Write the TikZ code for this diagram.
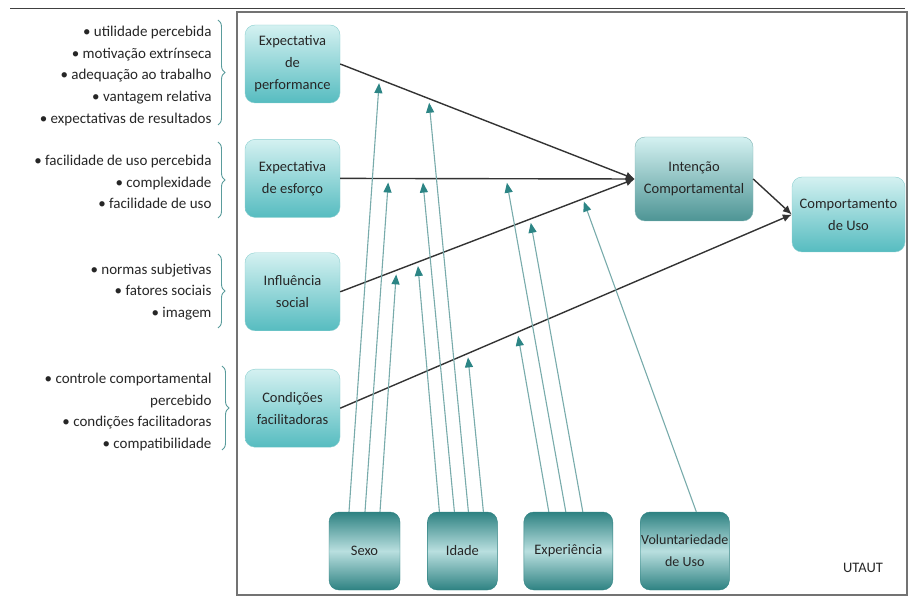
\documentclass[tikz,border=0pt]{standalone}
\usepackage{fontspec}
\setmainfont{Carlito}
\usetikzlibrary{positioning, arrows.meta, calc, decorations.pathreplacing}
\definecolor{tealtop}{HTML}{D4F1F1}
\definecolor{tealbot}{HTML}{56BCC0}
\definecolor{tealedge}{HTML}{8CCFD0}
\definecolor{tealdark}{HTML}{2E8282}
\definecolor{teallight}{HTML}{B9DFDF}
\definecolor{modline}{HTML}{78ABAB}
\definecolor{modtip}{HTML}{2C8585}
\definecolor{bracecol}{HTML}{5A9C9C}
\tikzset{
    factor/.style={rectangle, rounded corners=10pt, draw=tealedge, top color=tealtop, bottom color=tealbot,
      minimum width=95pt, minimum height=78pt, align=center, inner sep=2pt, text=black!85,
      font=\fontsize{14.5}{22}\selectfont},
    intent/.style={factor, top color=tealtop, bottom color=tealdark!85, draw=tealdark!60,
      minimum width=118pt, minimum height=84pt},
    moder/.style={factor, top color=tealdark, bottom color=tealdark, middle color=teallight, draw=tealdark,
      minimum width=71pt, inner sep=1pt},
    factors/.style={align=right, anchor=east, font=\fontsize{15}{21.8}\selectfont, text=black!85},
    main/.style={draw=black!80, line width=1.4pt, -{Latex[length=9pt,width=8pt]}},
    mod/.style={draw=modline, line width=1.1pt, -{Triangle[length=10pt,width=8pt,color=modtip]}},
    grp/.style={draw=bracecol, line width=0.9pt, decorate, decoration={brace, amplitude=7pt}},
}
\begin{document}
\begin{tikzpicture}[x=1pt, y=-1pt]
    \tikzset{node distance=36pt}
    \useasboundingbox (0,0) rectangle (913,601);

    % frame
    \draw[black!75, line width=1pt] (10,9) -- (905,9);
    \draw[black!55, line width=1.6pt] (237,12) rectangle (907,595);

    % constructs
    \node[factor] (perf) at (292.5,64) {Expectativa\\de\\performance};
    \node[factor, below=36pt of perf] (esf) {Expectativa\\de esforço};
    \node[factor, below=35pt of esf] (infl) {Influência\\social};
    \node[factor, below=38pt of infl] (cond) {Condições\\facilitadoras};
    \node[intent] (int) at (694,179) {Intenção\\Comportamental};
    \node[factor, minimum width=113pt, minimum height=75pt] (uso) at (848.5,214.5) {Comportamento\\de Uso};

    % moderators
    \node[moder] (sexo) at (364.5,551) {Sexo};
    \node[moder, minimum width=70pt, right=27pt of sexo] (idade) {Idade};
    \node[moder, minimum width=89pt, right=26pt of idade] (exper) {Experiência};
    \node[moder, minimum width=89pt, right=27pt of exper, font=\fontsize{14}{22}\selectfont] (volunt) {Voluntariedade\\de Uso};
    \node[text=black!85, font=\fontsize{14.5}{16}\selectfont] (utaut) at (863,568) {UTAUT};

    % items
    \node[factors] (l1) at (215,76) {• utilidade percebida\\• motivação extrínseca\\• adequação ao trabalho\\• vantagem relativa\\• expectativas de resultados};
    \node[factors] (l2) at (215,182) {• facilidade de uso percebida\\• complexidade\\• facilidade de uso};
    \node[factors] (l3) at (215,292) {• normas subjetivas\\• fatores sociais\\• imagem};
    \node[factors] (l4) at (215,412) {• controle comportamental\\percebido\\• condições facilitadoras\\• compatibilidade};
    \draw[grp] (218,20) -- (218,125);
    \draw[grp] (218,142) -- (218,218);
    \draw[grp] (218,254) -- (218,328);
    \draw[grp] (222,366) -- (222,450);

    \draw[main] (perf.east) -- (int.west);
    \draw[main] (esf.east) -- (int.west);
    \draw[main] (infl.east) -- (int.west);
    \draw[main] (cond.east) -- (uso.west);
    \draw[main] (int.east) -- (uso.west);

    % where the moderators meet the paths
    \coordinate (s1) at ($(perf.east)!0.132!(int.west)+(0,4)$);
    \coordinate (s2) at ($(esf.east)!0.163!(int.west)+(0,4)$);
    \coordinate (s3) at ($(infl.east)!0.19!(int.west)+(0,4)$);
    \coordinate (i1) at ($(infl.east)!0.264!(int.west)+(0,4)$);
    \coordinate (i2) at ($(esf.east)!0.281!(int.west)+(0,4)$);
    \coordinate (i3) at ($(perf.east)!0.302!(int.west)+(0,4)$);
    \coordinate (i4) at ($(cond.east)!0.283!(uso.west)+(0,4)$);
    \coordinate (e1) at ($(cond.east)!0.394!(uso.west)+(0,4)$);
    \coordinate (e2) at ($(esf.east)!0.566!(int.west)+(0,4)$);
    \coordinate (e3) at ($(infl.east)!0.647!(int.west)+(0,4)$);
    \coordinate (v1) at ($(infl.east)!0.827!(int.west)+(0,3)$);

    \draw[mod] ($(sexo.north)+(-15.5,0)$) -- (s1);
    \draw[mod] ($(sexo.north)+(0.5,0)$) -- (s2);
    \draw[mod] ($(sexo.north)+(15.5,0)$) -- (s3);
    \draw[mod] ($(idade.north)+(-23,0)$) -- (i1);
    \draw[mod] ($(idade.north)+(-8,0)$) -- (i2);
    \draw[mod] ($(idade.north)+(6,0)$) -- (i3);
    \draw[mod] ($(idade.north)+(21,0)$) -- (i4);
    \draw[mod] ($(exper.north)+(-19.5,0)$) -- (e1);
    \draw[mod] ($(exper.north)+(-2.5,0)$) -- (e2);
    \draw[mod] ($(exper.north)+(14.5,0)$) -- (e3);
    \draw[mod] ($(volunt.north)+(11.5,0)$) -- (v1);
\end{tikzpicture}
\end{document}
